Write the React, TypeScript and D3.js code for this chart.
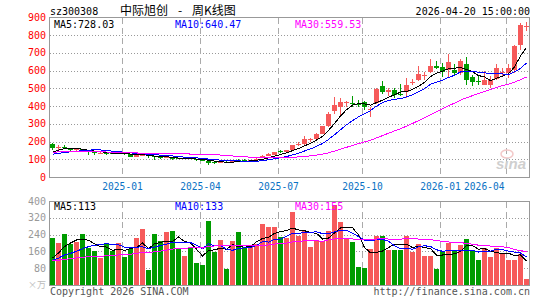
import * as d3 from 'd3';

// weekly candles, dated by the last trading day of the week
const weeks = [
  '2024-10-11', '2024-10-18', '2024-10-25', '2024-11-01', '2024-11-08', '2024-11-15', '2024-11-22', '2024-11-29',
  '2024-12-06', '2024-12-13', '2024-12-20', '2024-12-27', '2025-01-03', '2025-01-10', '2025-01-17', '2025-01-24',
  '2025-01-27', '2025-02-07', '2025-02-14', '2025-02-21', '2025-02-28', '2025-03-07', '2025-03-14', '2025-03-21',
  '2025-03-28', '2025-04-03', '2025-04-11', '2025-04-18', '2025-04-25', '2025-04-30', '2025-05-09', '2025-05-16',
  '2025-05-23', '2025-05-30', '2025-06-06', '2025-06-13', '2025-06-20', '2025-06-27', '2025-07-04', '2025-07-11',
  '2025-07-18', '2025-07-25', '2025-08-01', '2025-08-08', '2025-08-15', '2025-08-22', '2025-08-29', '2025-09-05',
  '2025-09-12', '2025-09-19', '2025-09-26', '2025-09-30', '2025-10-10', '2025-10-17', '2025-10-24', '2025-10-31',
  '2025-11-07', '2025-11-14', '2025-11-21', '2025-11-28', '2025-12-05', '2025-12-12', '2025-12-19', '2025-12-26',
  '2025-12-31', '2026-01-09', '2026-01-16', '2026-01-23', '2026-01-30', '2026-02-06', '2026-02-13', '2026-02-27',
  '2026-03-06', '2026-03-13', '2026-03-20', '2026-03-27', '2026-04-03', '2026-04-10', '2026-04-17', '2026-04-20',
];

const opens = [
  186, 166, 172, 159, 150, 156, 146, 140, 133, 137, 134, 131, 140, 129, 114, 121,
  124, 118, 114, 108, 112, 106, 102, 106, 102, 96, 90, 86, 81, 86, 84, 97,
  95, 91, 97, 116, 120, 126, 145, 142, 150, 186, 186, 208, 215, 245, 289, 373,
  396, 420, 416, 410, 424, 383, 418, 511, 479, 492, 470, 479, 531, 547, 571, 594,
  628, 622, 605, 605, 587, 637, 566, 541, 521, 521, 555, 590, 587, 605, 743, 850,
];
const highs = [
  190, 183, 179, 163, 160, 160, 148, 142, 139, 139, 136, 145, 142, 131, 125, 130,
  126, 120, 118, 117, 114, 110, 110, 108, 104, 98, 91, 88, 88, 90, 94, 101,
  100, 97, 106, 123, 133, 142, 150, 153, 183, 196, 232, 221, 250, 290, 368, 453,
  447, 428, 458, 435, 430, 396, 505, 543, 505, 500, 526, 558, 553, 628, 592, 666,
  653, 643, 694, 637, 668, 675, 577, 568, 596, 568, 637, 615, 637, 747, 869, 873,
];
const lows = [
  153, 155, 158, 146, 145, 147, 126, 122, 128, 124, 127, 129, 125, 112, 112, 117,
  110, 94, 104, 106, 98, 100, 101, 99, 92, 90, 66, 76, 78, 82, 82, 88,
  89, 88, 95, 109, 118, 122, 137, 140, 148, 177, 182, 200, 212, 242, 283, 357,
  340, 396, 396, 396, 379, 337, 413, 470, 455, 445, 455, 445, 521, 540, 547, 587,
  611, 562, 558, 577, 577, 521, 511, 517, 517, 502, 547, 562, 558, 587, 715, 824,
];
const closes = [
  162, 169, 161, 150, 156, 150, 139, 134, 137, 132, 130, 140, 131, 115, 122, 127,
  117, 111, 108, 113, 101, 102, 107, 102, 94, 92, 79, 80, 84, 84, 92, 92,
  91, 95, 104, 118, 131, 140, 142, 150, 181, 189, 217, 212, 245, 285, 358, 407,
  424, 424, 413, 407, 396, 386, 499, 477, 492, 464, 465, 517, 534, 581, 573, 628,
  613, 592, 649, 587, 653, 549, 534, 539, 549, 547, 615, 592, 613, 738, 855, 853,
];
// volume, 10k lots
const volumes = [
  224, 202, 243, 196, 207, 243, 175, 160, 130, 196, 163, 202, 134, 172, 224, 267,
  73, 243, 210, 253, 258, 177, 139, 174, 106, 96, 305, 155, 215, 77, 210, 253,
  182, 187, 196, 291, 277, 277, 229, 224, 348, 234, 258, 182, 210, 210, 258, 381,
  300, 220, 205, 87, 82, 172, 234, 234, 167, 167, 167, 234, 158, 196, 139, 139,
  77, 163, 201, 163, 191, 220, 160, 118, 178, 132, 178, 150, 120, 120, 150, 28,
];

// weeks before the window, only feeding the moving averages at the left edge
const prevCloses = [
  130, 138, 142, 135, 140, 150, 148, 155, 160, 165, 170, 162, 158, 150, 145, 148,
  140, 135, 128, 121, 118, 112, 116, 120, 114, 112, 118, 140, 170,
];
const prevVolumes = [
  105, 120, 110, 95, 130, 125, 115, 100, 140, 120, 110, 105, 100, 115, 125, 110,
  100, 120, 105, 120, 100, 95, 120, 110, 115, 80, 90, 110, 136,
];

const monthTicks = ['2025-01', '2025-04', '2025-07', '2025-10', '2026-01', '2026-04'];
const priceTicks = [0, 100, 200, 300, 400, 500, 600, 700, 800, 900];
const volumeTicks = [80, 160, 240, 320, 400];
const priceLegend = ['MA5:728.03', 'MA10:640.47', 'MA30:559.53'];
const volumeLegend = ['MA5:113', 'MA10:133', 'MA30:155'];
const maPeriods = [5, 10, 30];
const maColors = ['#000000', '#0000ff', '#ff00ff'];

const RED = '#f65a5a';
const GREEN = '#009c00';
const MONO = '"DejaVu Sans Mono", monospace';
const CJK = '"Noto Sans CJK SC", sans-serif';

function movingAverage(prev: number[], values: number[], n: number) {
  const all = prev.concat(values);
  return values.map((_, i) => {
    const end = prev.length + i;
    return d3.mean(all.slice(end - n + 1, end + 1)) as number;
  });
}

export default function App() {
  const left = 50;
  const right = 530;

  const x = d3.scaleBand<string>().domain(weeks).range([left, right]).padding(0);
  const y = d3.scaleLinear().domain([0, 900]).range([177, 17.5]);
  const yv = d3.scaleLinear().domain([0, 400]).range([285, 201]);

  const cx = (d: string) => (x(d) as number) + 2.5;

  const priceMA = maPeriods.map(n => movingAverage(prevCloses, closes, n));
  const volMA = maPeriods.map(n => movingAverage(prevVolumes, volumes, n));

  const priceLine = d3.line<number>().x((_, i) => cx(weeks[i])).y(v => y(v));
  const volLine = d3.line<number>().x((_, i) => cx(weeks[i])).y(v => yv(v));

  const tickIndex = monthTicks.map(m => weeks.findIndex(w => w.startsWith(m)));

  const legendX = [54, 175, 295];

  return (
    <svg width={545} height={300} style={{ position: 'absolute', left: 0, top: 0, background: '#fff' }}>
      {/* header */}
      <text x={50} y={14.5} fontFamily={MONO} fontSize={10} fill="#000">sz300308</text>
      <text x={120} y={14.5} fontFamily={CJK} fontSize={12} fill="#000">中际旭创</text>
      <text x={180} y={14.5} textAnchor="middle" fontFamily={CJK} fontSize={12} fill="#000">-</text>
      <text x={192} y={14.5} fontFamily={CJK} fontSize={12} fill="#000">周K线图</text>
      <text x={530} y={14.5} textAnchor="end" fontFamily={MONO} fontSize={10} fill="#000">2026-04-20 15:00:00</text>

      {/* horizontal grid */}
      {priceTicks.slice(1, -1).map(t => (
        <line key={'pg' + t} x1={left} x2={right - 1} y1={Math.round(y(t)) + 0.5} y2={Math.round(y(t)) + 0.5}
          stroke="#999" strokeDasharray="1,2" />
      ))}
      {volumeTicks.slice(0, -1).map(t => (
        <line key={'vg' + t} x1={left} x2={right - 1} y1={Math.round(yv(t)) + 0.5} y2={Math.round(yv(t)) + 0.5}
          stroke="#999" strokeDasharray="1,2" />
      ))}

      {/* month lines, the last label sits left of its line */}
      {tickIndex.map((ti, k) => {
        const xx = (x(weeks[ti]) as number) + 0.5;
        const last = k === monthTicks.length - 1;
        return (
          <g key={'m' + k}>
            <line x1={xx} x2={xx} y1={18} y2={177} stroke="#aaa" strokeDasharray="6,4" />
            <line x1={xx} x2={xx} y1={202} y2={285} stroke="#aaa" strokeDasharray="6,4" />
            <text x={last ? xx - 2 : xx} y={189.5} textAnchor={last ? 'end' : 'middle'} fontFamily={MONO}
              fontSize={9.6} fill="#0a72c4">{monthTicks[k]}</text>
          </g>
        );
      })}

      {/* sina watermark */}
      <ellipse cx={507} cy={154} rx={6} ry={4} fill="none" stroke="#f3c8c8" strokeWidth={1.5} />
      <text x={496} y={169} fontFamily='"Liberation Sans", sans-serif' fontSize={15} fontWeight="bold"
        fontStyle="italic" fill="#cfcfcf">sina</text>

      {/* candles */}
      <g shapeRendering="crispEdges">
        {weeks.map((w, i) => {
          const up = closes[i] >= opens[i];
          const col = up ? RED : GREEN;
          const top = Math.round(y(Math.max(opens[i], closes[i])));
          const bot = Math.round(y(Math.min(opens[i], closes[i])));
          const hi = Math.round(y(highs[i]));
          const lo = Math.round(y(lows[i]));
          const bx = x(w) as number;
          return (
            <g key={w}>
              <rect x={bx + 2} y={hi} width={1} height={Math.max(1, lo - hi)} fill={col} />
              <rect x={bx} y={top} width={5} height={Math.max(1, bot - top)} fill={col} />
            </g>
          );
        })}
      </g>

      {/* price moving averages */}
      {priceMA.map((s, k) => (
        <path key={'pm' + k} d={priceLine(s) as string} fill="none" stroke={maColors[k]} strokeWidth={1}
          shapeRendering="crispEdges" />
      ))}

      {/* volume bars */}
      <g shapeRendering="crispEdges">
        {weeks.map((w, i) => {
          const top = Math.round(yv(volumes[i]));
          return (
            <rect key={'v' + w} x={x(w) as number} y={top} width={5} height={285 - top}
              fill={closes[i] >= opens[i] ? RED : GREEN} />
          );
        })}
      </g>
      {volMA.map((s, k) => (
        <path key={'vm' + k} d={volLine(s) as string} fill="none" stroke={maColors[k]} strokeWidth={1}
          shapeRendering="crispEdges" />
      ))}

      {/* frames */}
      <rect x={49.5} y={17.5} width={480} height={160} fill="none" stroke="#999" shapeRendering="crispEdges" />
      <rect x={49.5} y={201.5} width={480} height={84} fill="none" stroke="#999" shapeRendering="crispEdges" />

      {/* axis labels */}
      {priceTicks.map(t => (
        <text key={'pl' + t} x={46} y={y(t)} dy="0.35em" textAnchor="end" fontFamily={MONO} fontSize={10} fill="#ff0000">{t}</text>
      ))}
      {volumeTicks.map(t => (
        <text key={'vl' + t} x={46} y={yv(t)} dy="0.35em" textAnchor="end" fontFamily={MONO} fontSize={10} fill="#999">{t}</text>
      ))}
      <text x={46} y={288} textAnchor="end" fontFamily={CJK} fontSize={9} fill="#bbb">×万</text>

      {/* legends */}
      {priceLegend.map((s, k) => (
        <text key={'lg' + k} x={legendX[k]} y={28} fontFamily={MONO} fontSize={10} fill={maColors[k]}>{s}</text>
      ))}
      {volumeLegend.map((s, k) => (
        <text key={'vlg' + k} x={legendX[k]} y={209.5} fontFamily={MONO} fontSize={10} fill={maColors[k]}>{s}</text>
      ))}

      {/* footer */}
      <text x={50} y={295} fontFamily={MONO} fontSize={10} fill="#555">Copyright 2026 SINA.COM</text>
      <text x={530} y={295} textAnchor="end" fontFamily={MONO} fontSize={10} fill="#555">http://finance.sina.com.cn</text>
    </svg>
  );
}
